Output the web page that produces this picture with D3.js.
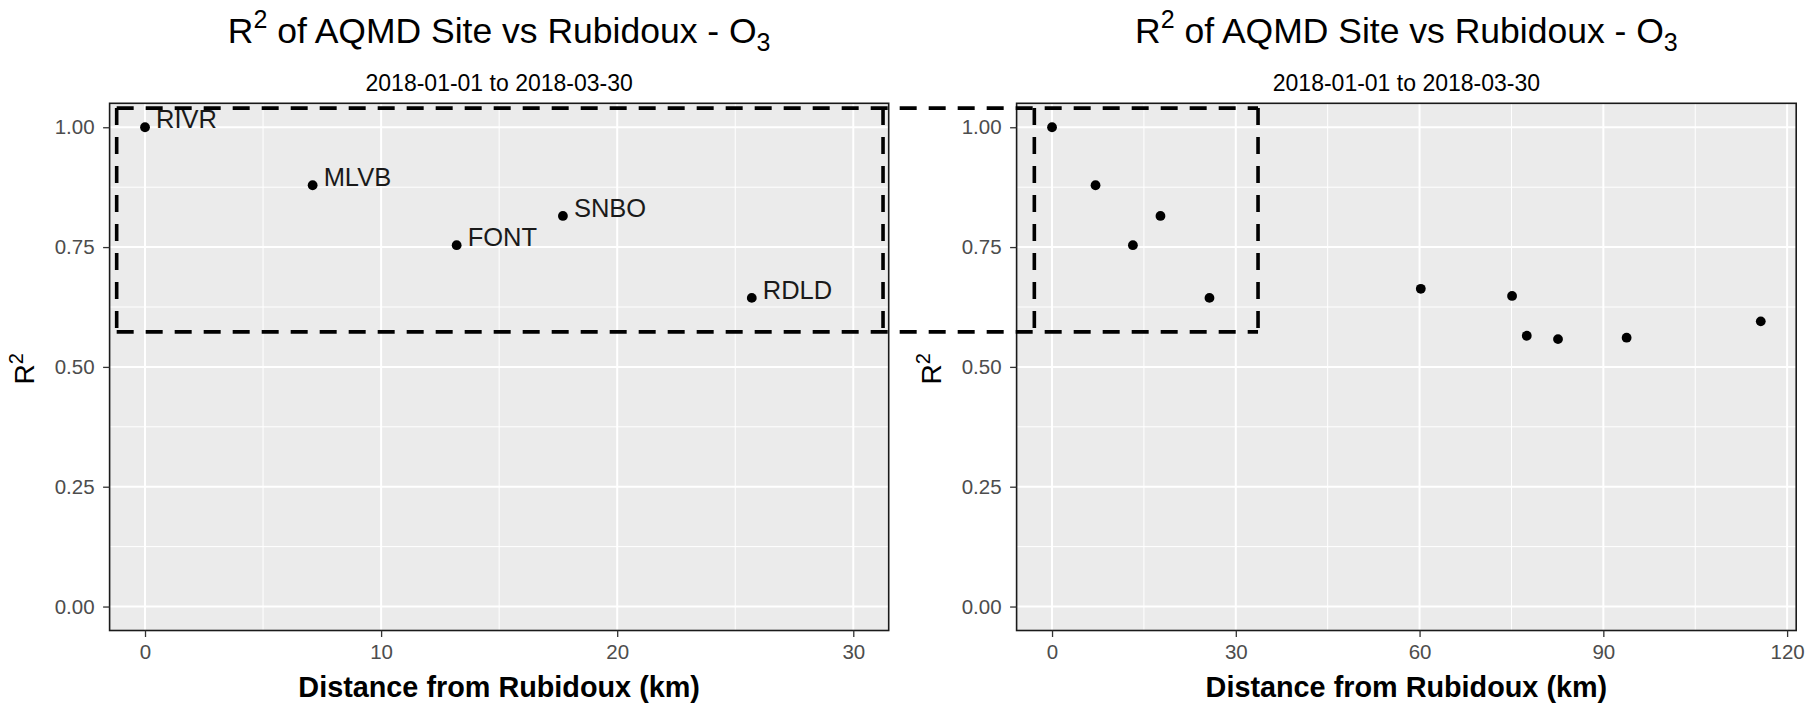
<!DOCTYPE html>
<html>
<head>
<meta charset="utf-8">
<script src="https://cdn.jsdelivr.net/npm/d3@7"></script>
<style>
  html, body { margin: 0; padding: 0; background: #ffffff; }
  svg { display: block; font-family: "Liberation Sans", Arial, "DejaVu Sans", sans-serif; }
</style>
</head>
<body>
<svg id="chart" width="1820" height="703"></svg>
<script>
// ---------------- data ----------------
const nearSites = ["RIVR", "MLVB", "FONT", "SNBO", "RDLD"];
const nearDist  = [0, 7.1, 13.2, 17.7, 25.7];
const nearR2    = [1.0, 0.879, 0.754, 0.815, 0.644];

const allDist = [0, 7.1, 13.2, 17.7, 25.7, 60.2, 75.1, 77.5, 82.6, 93.8, 115.7];
const allR2   = [1.0, 0.879, 0.754, 0.815, 0.644, 0.663, 0.648, 0.565, 0.558, 0.561, 0.595];

const leftXLimits  = [0, 30];
const rightXLimits = [0, 115.7];
const yLimits      = [0, 1];

const leftXTicks  = [0, 10, 20, 30];
const rightXTicks = [0, 30, 60, 90, 120];
const yTicks      = [0, 0.25, 0.5, 0.75, 1.0];

// zoom-box annotation (data units of each panel)
const leftBoxX  = [-1.2, 31.26];
const rightBoxX = [-2.89, 33.63];
const boxY      = [0.573, 1.04];

const titleMain = "of AQMD Site vs Rubidoux - O";
const subTitle  = "2018-01-01 to 2018-03-30";
const xTitle    = "Distance from Rubidoux (km)";

// ---------------- layout ----------------
const svg = d3.select("#chart");
svg.append("rect").attr("width", 1820).attr("height", 703).attr("fill", "#ffffff");

const panelTop = 103.3, panelBottom = 630.5;

function expand(lim) {
  const r = lim[1] - lim[0];
  return [lim[0] - 0.05 * r, lim[1] + 0.05 * r];
}
function minors(ticks, dom) {
  const out = [];
  const step = ticks[1] - ticks[0];
  const all = [ticks[0] - step].concat(ticks, [ticks[ticks.length - 1] + step]);
  for (let i = 0; i < all.length - 1; i++) {
    const m = (all[i] + all[i + 1]) / 2;
    if (m > dom[0] && m < dom[1]) out.push(m);
  }
  return out;
}

function drawPanel(cfg) {
  const x = d3.scaleLinear().domain(expand(cfg.xLimits)).range([cfg.left, cfg.right]);
  const y = d3.scaleLinear().domain(expand(yLimits)).range([panelBottom, panelTop]);
  const g = svg.append("g");

  g.append("rect")
    .attr("x", cfg.left).attr("y", panelTop)
    .attr("width", cfg.right - cfg.left).attr("height", panelBottom - panelTop)
    .attr("fill", "#EBEBEB");

  // minor grid
  const xMin = minors(cfg.xTicks, x.domain());
  const yMin = minors(yTicks, y.domain());
  g.selectAll(".xminor").data(xMin).join("line")
    .attr("x1", d => x(d)).attr("x2", d => x(d))
    .attr("y1", panelTop).attr("y2", panelBottom)
    .attr("stroke", "#ffffff").attr("stroke-width", 1);
  g.selectAll(".yminor").data(yMin).join("line")
    .attr("y1", d => y(d)).attr("y2", d => y(d))
    .attr("x1", cfg.left).attr("x2", cfg.right)
    .attr("stroke", "#ffffff").attr("stroke-width", 1);
  // major grid
  g.selectAll(".xmajor").data(cfg.xTicks).join("line")
    .attr("x1", d => x(d)).attr("x2", d => x(d))
    .attr("y1", panelTop).attr("y2", panelBottom)
    .attr("stroke", "#ffffff").attr("stroke-width", 2);
  g.selectAll(".ymajor").data(yTicks).join("line")
    .attr("y1", d => y(d)).attr("y2", d => y(d))
    .attr("x1", cfg.left).attr("x2", cfg.right)
    .attr("stroke", "#ffffff").attr("stroke-width", 2);

  // points
  g.selectAll(".pt").data(cfg.xs.map((d, i) => [d, cfg.ys[i]])).join("circle")
    .attr("cx", d => x(d[0])).attr("cy", d => y(d[1]))
    .attr("r", 4.9).attr("fill", "#000000");

  // labels
  if (cfg.labels) {
    g.selectAll(".lab").data(cfg.labels.map((s, i) => [s, cfg.xs[i], cfg.ys[i]])).join("text")
      .attr("x", d => x(d[1]) + 11).attr("y", d => y(d[2]) + 1)
      .attr("font-size", 25.5).attr("fill", "#1a1a1a")
      .text(d => d[0]);
  }

  // border
  g.append("rect")
    .attr("x", cfg.left).attr("y", panelTop)
    .attr("width", cfg.right - cfg.left).attr("height", panelBottom - panelTop)
    .attr("fill", "none").attr("stroke", "#1a1a1a").attr("stroke-width", 1.6);

  // axes
  const ax = g.append("g").attr("transform", `translate(0,${panelBottom})`)
    .call(d3.axisBottom(x).tickValues(cfg.xTicks).tickFormat(d3.format("d")).tickSize(6.5).tickPadding(7));
  const ay = g.append("g").attr("transform", `translate(${cfg.left},0)`)
    .call(d3.axisLeft(y).tickValues(yTicks).tickFormat(d3.format(".2f")).tickSize(6.5).tickPadding(8.5));
  [ax, ay].forEach(a => {
    a.select(".domain").remove();
    a.selectAll(".tick line").attr("stroke", "#333333").attr("stroke-width", 1.3);
    a.selectAll(".tick text").attr("fill", "#4D4D4D").attr("font-size", 20.5)
      .attr("font-family", "'Liberation Sans', Arial, sans-serif");
  });

  const cx = (cfg.left + cfg.right) / 2;
  // title with super/subscript
  const t = g.append("text").attr("x", cx).attr("y", 42.5).attr("text-anchor", "middle")
    .attr("font-size", 35.5).attr("fill", "#000000");
  t.append("tspan").text("R");
  t.append("tspan").attr("font-size", 25).attr("dy", -15).text("2");
  t.append("tspan").attr("dy", 15).text(" " + titleMain);
  t.append("tspan").attr("font-size", 25).attr("dy", 8).text("3");

  g.append("text").attr("x", cx).attr("y", 90.5).attr("text-anchor", "middle")
    .attr("font-size", 23).attr("fill", "#000000").text(subTitle);

  g.append("text").attr("x", cx).attr("y", 697).attr("text-anchor", "middle")
    .attr("font-size", 28.8).attr("font-weight", "bold").attr("fill", "#000000").text(xTitle);

  // y title R^2 rotated
  const yt = g.append("text")
    .attr("transform", `translate(${cfg.left - 76},${(panelTop + panelBottom) / 2 + 2}) rotate(-90)`)
    .attr("text-anchor", "middle").attr("font-size", 28).attr("fill", "#000000");
  yt.append("tspan").text("R");
  yt.append("tspan").attr("font-size", 20).attr("dy", -11).text("2");

  return { x, y };
}

const L = drawPanel({ left: 109.6, right: 888.7, xLimits: leftXLimits, xTicks: leftXTicks,
                      xs: nearDist, ys: nearR2, labels: nearSites });
const R = drawPanel({ left: 1016.6, right: 1796.2, xLimits: rightXLimits, xTicks: rightXTicks,
                      xs: allDist, ys: allR2, labels: null });

// ---------------- zoom-box overlay ----------------
const yTop = L.y(boxY[1]), yBot = L.y(boxY[0]);
const ov = svg.append("g").attr("fill", "none").attr("stroke", "#000000")
  .attr("stroke-width", 3.6).attr("stroke-dasharray", "17,12");
const xa = L.x(leftBoxX[0]), xb = R.x(rightBoxX[1]);
ov.append("line").attr("x1", xa).attr("x2", xb).attr("y1", yTop).attr("y2", yTop);
ov.append("line").attr("x1", xa).attr("x2", xb).attr("y1", yBot).attr("y2", yBot);
[L.x(leftBoxX[0]), L.x(leftBoxX[1]), R.x(rightBoxX[0]), R.x(rightBoxX[1])].forEach(v => {
  ov.append("line").attr("x1", v).attr("x2", v).attr("y1", yTop).attr("y2", yBot);
});
</script>
</body>
</html>
